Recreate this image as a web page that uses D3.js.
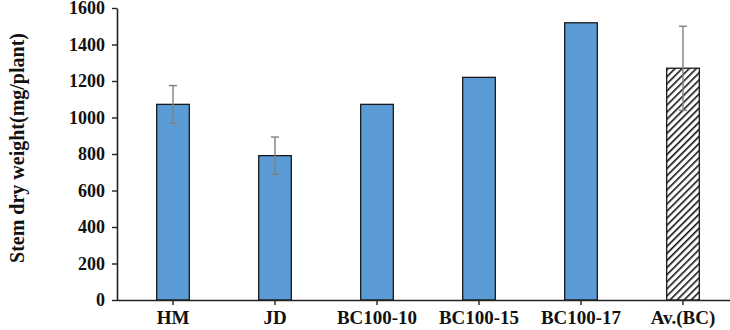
<!DOCTYPE html>
<html>
<head>
<meta charset="utf-8">
<script src="https://cdn.jsdelivr.net/npm/d3@7"></script>
<style>
  body { margin: 0; background: #fff; }
</style>
</head>
<body>
<div id="chart-area"></div>
<script>
// Data
const categories = ["HM", "JD", "BC100-10", "BC100-15", "BC100-17", "Av.(BC)"];
const values = [1072, 791, 1072, 1220, 1519, 1270];
const errors = [103, 102, 0, 0, 0, 230];
const yTicks = [0, 200, 400, 600, 800, 1000, 1200, 1400, 1600];

const width = 730;
const height = 330;
const serif = "'Liberation Serif', 'Times New Roman', 'DejaVu Serif', serif";

const svg = d3.select("#chart-area")
	.append("svg")
	.attr("width", width)
	.attr("height", height);

// hatch pattern for the average bar
const defs = svg.append("defs");
const pattern = defs.append("pattern")
	.attr("id", "hatch")
	.attr("patternUnits", "userSpaceOnUse")
	.attr("width", 5)
	.attr("height", 5)
	.attr("patternTransform", "rotate(45)");
pattern.append("rect")
	.attr("width", 5)
	.attr("height", 5)
	.attr("fill", "white");
pattern.append("line")
	.attr("x1", 0).attr("y1", 0)
	.attr("x2", 0).attr("y2", 5)
	.attr("stroke", "#111")
	.attr("stroke-width", 3.2);

// Scales
const x = d3.scaleBand()
	.domain(categories)
	.range([122, 734])
	.padding(0);

const y = d3.scaleLinear()
	.domain([0, 1600])
	.range([300, 8]);

const barW = x.bandwidth() * 0.32;

// Y axis
const yAxis = svg.append("g")
	.attr("transform", "translate(117,0)")
	.call(d3.axisLeft(y).tickValues(yTicks).tickFormat(d3.format("d"))
		.tickSize(5).tickPadding(7).tickSizeOuter(0));
yAxis.attr("font-family", serif);
yAxis.select(".domain").attr("stroke", "#222").attr("stroke-width", 1.6);
yAxis.selectAll(".tick line").attr("stroke", "#222").attr("stroke-width", 1.4);
yAxis.selectAll(".tick text")
	.attr("font-size", "18px")
	.attr("font-weight", "bold")
	.attr("fill", "#111");

// Bars
svg.selectAll("rect.bar")
	.data(categories)
	.enter()
	.append("rect")
	.attr("class", "bar")
	.attr("x", d => x(d) + x.bandwidth() / 2 - barW / 2)
	.attr("y", (d, i) => y(values[i]))
	.attr("width", barW)
	.attr("height", (d, i) => y(0) - y(values[i]))
	.attr("fill", (d, i) => i === 5 ? "url(#hatch)" : "#5b9bd5")
	.attr("stroke", "#1a1a1a")
	.attr("stroke-width", 1.3);

// Error bars
const err = svg.selectAll("g.err")
	.data(categories.filter((d, i) => errors[i] > 0))
	.enter()
	.append("g")
	.attr("class", "err")
	.attr("stroke", "#808080")
	.attr("stroke-width", 1.4);

err.append("line")
	.attr("x1", d => x(d) + x.bandwidth() / 2)
	.attr("x2", d => x(d) + x.bandwidth() / 2)
	.attr("y1", d => { const i = categories.indexOf(d); return y(values[i] + errors[i]); })
	.attr("y2", d => { const i = categories.indexOf(d); return y(values[i] - errors[i]); });

[1, -1].forEach(s => {
	err.append("line")
		.attr("x1", d => x(d) + x.bandwidth() / 2 - 4)
		.attr("x2", d => x(d) + x.bandwidth() / 2 + 4)
		.attr("y1", d => { const i = categories.indexOf(d); return y(values[i] + s * errors[i]); })
		.attr("y2", d => { const i = categories.indexOf(d); return y(values[i] + s * errors[i]); });
});

// X axis
const xAxis = svg.append("g")
	.attr("transform", "translate(0,300)")
	.call(d3.axisBottom(x).tickSize(5).tickPadding(9).tickSizeOuter(0));
xAxis.attr("font-family", serif);
xAxis.select(".domain").attr("d", "M117,0.5H730").attr("stroke", "#222").attr("stroke-width", 1.6);
xAxis.selectAll(".tick line").attr("stroke", "#222").attr("stroke-width", 1.4);
xAxis.selectAll(".tick text")
	.attr("font-size", "19px")
	.attr("font-weight", "bold")
	.attr("dy", "0.55em")
	.attr("fill", "#111");

// Y axis label
svg.append("text")
	.attr("transform", "translate(24,148) rotate(-90)")
	.attr("text-anchor", "middle")
	.attr("font-family", serif)
	.attr("font-weight", "bold")
	.attr("font-size", "20px")
	.attr("fill", "#111")
	.text("Stem dry weight(mg/plant)");
</script>
</body>
</html>
